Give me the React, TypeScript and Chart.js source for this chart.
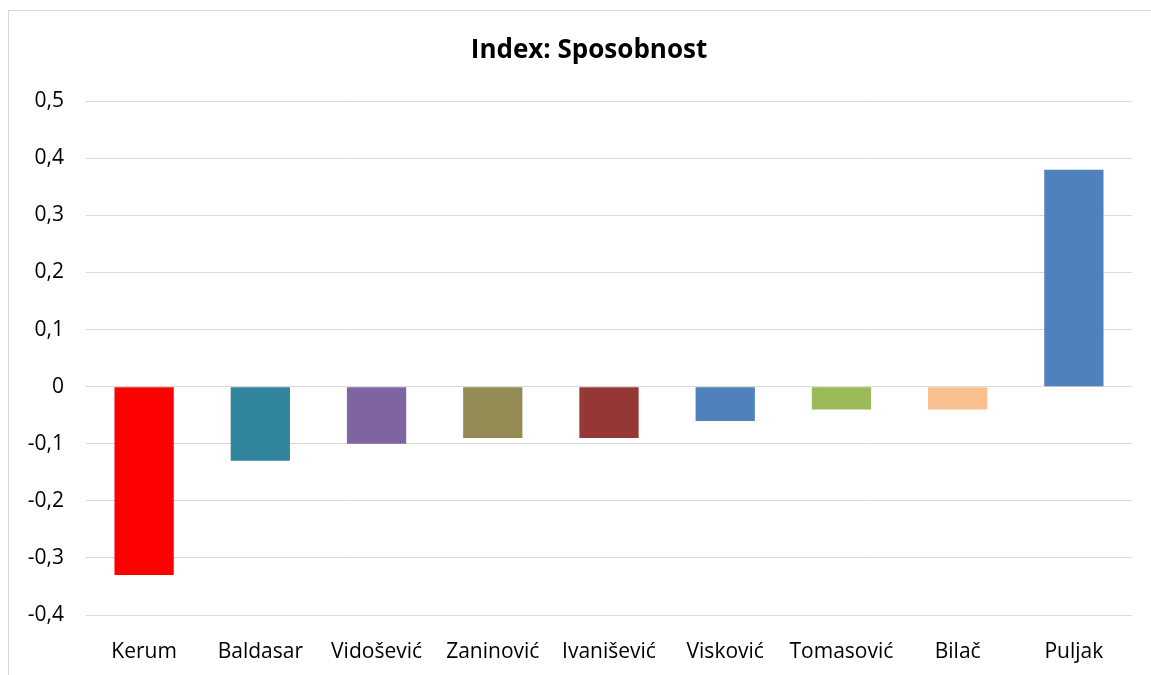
import React, { useEffect, useRef } from "react";
import { Chart, registerables } from "chart.js";

Chart.register(...registerables);

const categories = ["Kerum", "Baldasar", "Vidošević", "Zaninović", "Ivanišević", "Visković", "Tomasović", "Bilač", "Puljak"];
const values = [-0.33, -0.13, -0.1, -0.09, -0.09, -0.06, -0.04, -0.04, 0.38];
const barColors = ["#FF0000", "#31859C", "#8064A2", "#948A54", "#953735", "#4F81BD", "#9BBB59", "#FAC090", "#4F81BD"];
const titleText = "Index: Sposobnost";
const yMin = -0.4;
const yMax = 0.5;
const yStep = 0.1;

const FONT = "'Open Sans', 'Noto Sans', sans-serif";

// shifts the title block so it is centred like the original (title centred over the whole frame)
const titleShift = {
  id: "titleShift",
  afterLayout(chart: any) {
    if (chart.titleBlock) chart.titleBlock.left = 37;
  },
};

export default function App() {
  const ref = useRef<HTMLCanvasElement | null>(null);
  useEffect(() => {
    if (!ref.current) return;
    const chart = new Chart(ref.current, {
      type: "bar",
      data: {
        labels: categories,
        datasets: [
          {
            data: values,
            backgroundColor: barColors,
            borderWidth: 0,
            categoryPercentage: 1,
            barPercentage: 0.51,
          },
        ],
      },
      plugins: [titleShift],
      options: {
        animation: false,
        responsive: false,
        maintainAspectRatio: false,
        layout: { padding: { left: 0, right: 19, top: 0, bottom: 0 } },
        plugins: {
          legend: { display: false },
          tooltip: { enabled: false },
          title: {
            display: true,
            text: titleText,
            color: "#000",
            font: { family: FONT, size: 26, weight: "bold", lineHeight: 1.2 },
            padding: { top: 24, bottom: 35 },
          },
        },
        scales: {
          x: {
            grid: { display: false },
            border: { display: false },
            ticks: { color: "#000", font: { family: FONT, size: 21 }, padding: 16, maxRotation: 0, autoSkip: false },
            afterFit: (s: any) => { s.height = 60; },
          },
          y: {
            min: yMin,
            max: yMax,
            grid: { color: "#d9d9d9", lineWidth: 1, drawTicks: false },
            border: { display: false },
            ticks: {
              stepSize: yStep,
              color: "#000",
              font: { family: FONT, size: 21 },
              padding: 22,
              callback: (v: any) => {
                const n = Math.round(Number(v) * 10) / 10;
                return n === 0 ? "0" : n.toFixed(1).replace(".", ",");
              },
            },
            afterFit: (s: any) => { s.width = 77; },
          },
        },
      },
    });
    return () => chart.destroy();
  }, []);
  return (
    <div
      style={{
        position: "fixed",
        top: 10,
        left: 8,
        width: 1143,
        height: 665,
        overflow: "hidden",
        boxSizing: "border-box",
        borderTop: "1px solid #d9d9d9",
        borderLeft: "1px solid #d9d9d9",
        background: "#fff",
      }}
    >
      <canvas ref={ref} width={1142} height={664} style={{ display: "block" }} />
    </div>
  );
}
